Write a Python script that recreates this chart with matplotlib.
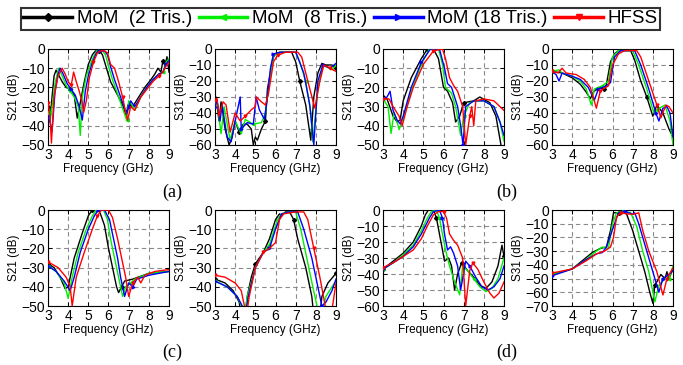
import matplotlib
matplotlib.use("Agg")
import matplotlib.pyplot as plt
from matplotlib.ticker import MultipleLocator

plt.rcParams['font.family'] = ['Liberation Sans', 'DejaVu Sans']

# ---------------- data (frequency GHz, dB) ----------------
SERIES = ["MoM  (2 Tris.)", "MoM  (8 Tris.)", "MoM (18 Tris.)", "HFSS"]
COLORS = ["#000000", "#00ee00", "#0000ff", "#ff0000"]
MARKERS = ["D", "<", ">", "v"]

# (a) S21
A21_M2 = [(3.0,-30),(3.1,-37),(3.2,-25),(3.3,-14),(3.4,-11),(3.5,-13),(3.7,-17),(3.9,-20),(4.1,-21),(4.3,-24),(4.45,-36),(4.6,-28),(4.8,-17),(5.0,-8),(5.2,-3),(5.35,-1),(5.55,-1),(5.7,-3),(5.9,-10),(6.1,-17),(6.3,-21),(6.5,-25),(6.7,-29),(6.85,-34),(7.0,-29),(7.2,-30),(7.5,-25),(7.8,-20),(8.1,-16),(8.3,-13),(8.45,-10),(8.6,-12),(8.7,-6),(8.8,-9),(8.9,-4),(9.0,-12)]
A21_M8 = [(3.0,-33),(3.1,-38),(3.2,-30),(3.35,-18),(3.5,-11),(3.55,-10),(3.7,-14),(3.9,-19),(4.1,-22),(4.3,-25),(4.5,-30),(4.6,-45),(4.7,-25),(4.9,-14),(5.1,-8),(5.3,-3),(5.45,-1),(5.7,-1),(5.85,-3),(6.0,-9),(6.2,-16),(6.4,-22),(6.6,-28),(6.8,-34),(6.9,-37),(7.0,-27),(7.15,-29),(7.3,-32),(7.6,-25),(7.9,-20),(8.2,-16),(8.5,-13),(8.7,-12),(8.85,-7),(9.0,-5)]
A21_M18 = [(3.0,-35),(3.1,-38),(3.2,-43),(3.35,-22),(3.5,-13),(3.6,-10),(3.75,-13),(3.95,-18),(4.15,-21),(4.35,-24),(4.55,-30),(4.7,-37),(4.85,-22),(5.0,-14),(5.2,-7),(5.4,-2),(5.55,-1),(5.8,-1),(5.95,-3),(6.1,-9),(6.3,-16),(6.5,-22),(6.7,-28),(6.9,-34),(7.0,-30),(7.1,-27),(7.3,-30),(7.6,-25),(7.9,-20),(8.2,-16),(8.5,-13),(8.7,-12),(8.85,-8),(9.0,-6)]
A21_HF = [(3.0,-28),(3.1,-35),(3.17,-49),(3.3,-25),(3.5,-14),(3.7,-10),(3.85,-13),(4.0,-17),(4.15,-19),(4.27,-12),(4.4,-17),(4.55,-22),(4.7,-28),(4.77,-33),(4.9,-27),(5.05,-15),(5.25,-7),(5.45,-2),(5.6,-1),(5.8,-1),(5.95,-2),(6.1,-8),(6.3,-10),(6.5,-17),(6.7,-25),(6.85,-33),(6.95,-37),(7.1,-30),(7.3,-32),(7.6,-25),(7.9,-21),(8.2,-17),(8.5,-14),(8.7,-12),(8.85,-9),(9.0,-7)]

# (a) S31
A31_M2 = [(3.0,-35),(3.05,-30),(3.2,-45),(3.3,-33),(3.5,-50),(3.7,-60),(3.85,-55),(4.0,-45),(4.2,-52),(4.4,-47),(4.6,-47),(4.8,-50),(4.9,-60),(5.0,-55),(5.1,-57),(5.3,-50),(5.5,-45),(5.6,-25),(5.7,-18),(5.9,-5),(6.0,-3),(6.2,-2),(6.8,-2),(7.0,-8),(7.2,-20),(7.5,-35),(7.75,-57),(7.9,-30),(8.1,-15),(8.3,-9),(8.5,-10),(8.8,-10),(9.0,-12)]
A31_M8 = [(3.0,-35),(3.1,-32),(3.3,-53),(3.45,-36),(3.75,-57),(4.0,-45),(4.3,-53),(4.5,-44),(4.9,-47),(5.3,-46),(5.5,-40),(5.7,-20),(5.9,-4),(6.3,-2),(7.0,-2),(7.2,-8),(7.5,-20),(7.75,-40),(7.85,-58),(8.1,-25),(8.35,-10),(8.8,-13),(9.0,-10)]
A31_M18 = [(3.0,-36),(3.1,-32),(3.25,-45),(3.35,-35),(3.6,-55),(3.8,-58),(4.0,-45),(4.25,-30),(4.3,-50),(4.6,-46),(4.9,-47),(5.04,-30),(5.2,-38),(5.45,-44),(5.6,-30),(5.75,-12),(5.9,-3),(6.3,-2),(7.0,-2),(7.1,-5),(7.4,-15),(7.7,-35),(7.9,-60),(8.1,-20),(8.35,-10),(8.7,-12),(9.0,-9)]
A31_HF = [(3.0,-32),(3.1,-31),(3.2,-42),(3.4,-33),(3.55,-35),(3.75,-52),(4.0,-40),(4.25,-45),(4.5,-42),(4.8,-38),(5.0,-36),(5.05,-30),(5.3,-33),(5.5,-35),(5.65,-28),(5.9,-8),(6.1,-4),(6.5,-2),(7.1,-2),(7.3,-5),(7.6,-20),(7.95,-37),(8.2,-20),(8.4,-10),(8.7,-12),(9.0,-14)]

# (b) S21
B21_M2 = [(3.0,-25),(3.2,-26),(3.5,-35),(3.7,-38),(3.85,-37),(4.0,-27),(4.4,-15),(4.9,-5),(5.2,0),(5.5,0),(5.75,-5),(6.0,-20),(6.2,-22),(6.45,-28),(6.6,-38),(6.8,-35),(7.0,-28),(7.5,-27),(7.8,-25),(8.3,-28),(8.6,-35),(8.85,-50),(9.0,-55)]
B21_M8 = [(3.0,-26),(3.25,-30),(3.4,-44),(3.55,-33),(3.7,-38),(3.8,-42),(4.0,-36),(4.4,-22),(4.9,-8),(5.3,0),(5.75,0),(5.95,-8),(6.1,-20),(6.4,-23),(6.6,-30),(6.85,-45),(7.0,-35),(7.3,-28),(7.6,-27),(8.0,-27),(8.5,-30),(8.8,-38),(9.0,-48)]
B21_M18 = [(3.0,-26),(3.2,-25),(3.35,-22),(3.5,-32),(3.7,-37),(3.85,-39),(4.0,-35),(4.4,-20),(4.9,-7),(5.35,0),(5.8,0),(6.05,-10),(6.2,-18),(6.4,-20),(6.7,-30),(6.85,-40),(6.97,-50),(7.1,-30),(7.5,-27),(8.0,-27),(8.5,-30),(8.8,-38),(9.0,-45)]
B21_HF = [(3.0,-26),(3.3,-26),(3.5,-30),(3.8,-35),(3.95,-40),(4.2,-30),(4.5,-20),(5.0,-8),(5.5,-1),(5.95,0),(6.1,-5),(6.3,-15),(6.5,-19),(6.7,-22),(6.95,-30),(7.1,-50),(7.3,-35),(7.4,-30),(7.5,-40),(7.6,-27),(8.0,-26),(8.5,-27),(9.0,-32)]

# (b) S31
B31_M2 = [(3.0,-14),(3.5,-15),(4.0,-18),(4.4,-22),(4.7,-27),(4.9,-31),(5.05,-27),(5.3,-24),(5.6,-25),(5.7,-22),(5.9,-8),(6.1,-3),(6.3,-1),(6.9,-1),(7.1,-7),(7.4,-20),(7.7,-30),(8.0,-42),(8.2,-35),(8.5,-40),(8.8,-50),(9.0,-55)]
B31_M8 = [(3.0,-14),(3.35,-13),(3.5,-15),(4.0,-17),(4.4,-20),(4.7,-25),(4.95,-35),(5.1,-25),(5.5,-23),(5.8,-20),(6.0,-5),(6.3,-1),(7.0,-1),(7.3,-10),(7.7,-25),(8.05,-40),(8.2,-38),(8.6,-35),(8.85,-45),(9.0,-60)]
B31_M18 = [(3.0,-14),(3.2,-16),(3.35,-20),(3.5,-15),(4.0,-17),(4.4,-19),(4.8,-24),(5.1,-32),(5.3,-25),(5.7,-23),(5.9,-21),(6.1,-5),(6.4,-1),(7.1,-1),(7.4,-10),(7.8,-25),(8.15,-40),(8.3,-45),(8.5,-37),(8.7,-36),(8.85,-40),(9.0,-55)]
B31_HF = [(3.0,-14),(3.3,-15),(3.5,-12),(3.7,-15),(4.2,-16),(4.6,-19),(4.9,-24),(5.2,-37),(5.4,-26),(5.8,-23),(6.0,-10),(6.3,-3),(6.6,-1),(7.2,-1),(7.4,-5),(7.8,-20),(8.2,-35),(8.4,-43),(8.65,-35),(8.8,-36),(9.0,-40)]

# (c) S21
C21_M2 = [(3.0,-28),(3.3,-30),(3.6,-35),(3.85,-41),(4.0,-40),(4.3,-25),(4.7,-12),(5.0,-3),(5.2,0),(5.5,0),(5.6,-2),(5.8,-8),(6.0,-20),(6.2,-30),(6.4,-40),(6.5,-43),(6.65,-40),(6.8,-37),(7.2,-36),(8.0,-33),(9.0,-32)]
C21_M8 = [(3.0,-29),(3.4,-32),(3.8,-38),(4.0,-46),(4.2,-35),(4.5,-22),(4.9,-10),(5.2,-3),(5.4,0),(5.75,0),(5.95,-5),(6.1,-15),(6.3,-25),(6.5,-35),(6.7,-45),(6.85,-40),(7.1,-38),(7.3,-36),(8.0,-33),(9.0,-32)]
C21_M18 = [(3.0,-29),(3.4,-32),(3.8,-37),(4.1,-42),(4.3,-35),(4.6,-22),(5.0,-10),(5.3,-3),(5.5,0),(5.8,0),(6.05,-5),(6.25,-15),(6.45,-25),(6.6,-35),(6.8,-45),(7.0,-38),(7.2,-40),(7.4,-36),(8.0,-34),(9.0,-32)]
C21_HF = [(3.0,-27),(3.5,-30),(3.9,-35),(4.1,-40),(4.2,-50),(4.4,-35),(4.8,-22),(5.2,-10),(5.45,-3),(5.65,0),(6.0,0),(6.2,-4),(6.45,-15),(6.65,-25),(6.85,-35),(7.0,-45),(7.2,-38),(7.45,-35),(7.6,-38),(7.8,-34),(8.3,-32),(9.0,-31)]

# (c) S31
C31_M2 = [(3.0,-36),(3.5,-38),(3.9,-42),(4.2,-48),(4.3,-55),(4.5,-55),(4.6,-45),(4.8,-35),(5.0,-28),(5.4,-22),(5.7,-15),(6.0,-5),(6.2,-2),(6.3,-3),(6.5,-1),(6.7,-1),(6.9,-5),(7.1,-15),(7.5,-30),(7.8,-45),(7.9,-55),(8.2,-55),(8.3,-45),(8.6,-38),(9.0,-33)]
C31_M8 = [(3.0,-37),(3.6,-40),(4.1,-45),(4.4,-52),(4.5,-52),(4.6,-45),(5.0,-30),(5.4,-22),(5.7,-18),(6.1,-5),(6.3,-2),(6.7,-1),(7.0,-1),(7.25,-10),(7.55,-25),(7.85,-40),(8.1,-52),(8.35,-52),(8.5,-45),(8.8,-40),(9.0,-37)]
C31_M18 = [(3.0,-37),(3.6,-40),(4.1,-45),(4.45,-52),(4.55,-52),(4.65,-45),(5.0,-30),(5.4,-22),(5.7,-20),(6.0,-10),(6.3,-2),(6.7,-1),(7.1,-1),(7.4,-10),(7.8,-25),(8.1,-40),(8.3,-50),(8.5,-48),(8.8,-42),(9.0,-36)]
C31_HF = [(3.0,-34),(3.5,-35),(4.0,-38),(4.3,-42),(4.5,-52),(4.6,-52),(4.7,-45),(5.0,-30),(5.4,-22),(5.7,-20),(6.0,-17),(6.2,-5),(6.4,-2),(7.0,-1),(7.4,-1),(7.6,-5),(7.9,-20),(8.2,-35),(8.5,-52),(8.8,-52),(8.9,-45),(9.0,-38)]

# (d) S21
D21_M2 = [(3.0,-37),(3.5,-32),(4.0,-27),(4.5,-20),(4.9,-10),(5.1,-3),(5.25,0),(5.5,0),(5.65,-5),(5.8,-15),(5.95,-25),(6.05,-32),(6.25,-30),(6.4,-35),(6.55,-50),(6.7,-40),(6.9,-33),(7.2,-38),(7.5,-42),(7.8,-47),(8.1,-49),(8.4,-45),(8.7,-35),(8.9,-22),(9.0,-29)]
D21_M8 = [(3.0,-37),(3.5,-33),(4.0,-28),(4.5,-22),(4.9,-13),(5.2,-5),(5.4,-1),(5.65,0),(5.8,-5),(5.95,-15),(6.1,-25),(6.3,-35),(6.55,-45),(6.8,-53),(6.95,-35),(7.2,-38),(7.5,-43),(7.8,-48),(8.1,-51),(8.4,-49),(8.7,-43),(9.0,-30)]
D21_M18 = [(3.0,-37),(3.5,-33),(4.0,-29),(4.5,-23),(4.9,-15),(5.3,-5),(5.5,-1),(5.8,0),(5.95,-5),(6.05,-15),(6.2,-25),(6.35,-23),(6.5,-27),(6.7,-35),(6.85,-50),(7.1,-32),(7.3,-35),(7.6,-42),(7.9,-48),(8.2,-50),(8.5,-48),(8.8,-43),(9.0,-35)]
D21_HF = [(3.0,-36),(3.5,-33),(4.0,-29),(4.5,-25),(4.9,-18),(5.2,-10),(5.5,-3),(5.75,-1),(6.0,-1),(6.15,-5),(6.3,-15),(6.5,-19),(6.7,-22),(6.95,-30),(7.1,-60),(7.3,-38),(7.45,-33),(7.7,-37),(8.0,-45),(8.3,-52),(8.5,-55),(8.75,-52),(9.0,-45)]

# (d) S31
D31_M2 = [(3.0,-47),(4.0,-43),(4.5,-37),(5.0,-31),(5.4,-28),(5.7,-27),(5.9,-15),(6.05,-2),(6.3,-2),(6.5,-1),(6.7,-3),(7.0,-15),(7.3,-30),(7.6,-45),(7.85,-60),(8.0,-68),(8.1,-55),(8.4,-47),(8.6,-50),(8.7,-45),(8.8,-50),(9.0,-43)]
D31_M8 = [(3.0,-47),(4.0,-43),(4.6,-37),(5.2,-30),(5.5,-27),(5.8,-28),(6.0,-10),(6.2,-2),(6.5,-1),(6.9,-2),(7.2,-12),(7.5,-30),(7.8,-45),(8.1,-67),(8.3,-55),(8.6,-50),(8.8,-50),(9.0,-41)]
D31_M18 = [(3.0,-48),(4.0,-43),(4.6,-37),(5.2,-32),(5.5,-31),(5.7,-27),(6.1,-10),(6.3,-2),(6.6,-1),(7.0,-3),(7.1,-2),(7.3,-10),(7.6,-25),(7.9,-40),(8.2,-55),(8.3,-60),(8.5,-50),(8.8,-47),(9.0,-44)]
D31_HF = [(3.0,-46),(4.0,-43),(4.7,-37),(5.2,-32),(5.6,-30),(5.9,-27),(6.05,-20),(6.2,-5),(6.4,-2),(6.8,-3),(7.1,-3),(7.3,-2),(7.5,-15),(7.8,-30),(8.2,-45),(8.5,-62),(8.7,-50),(9.0,-42)]

PANELS = [
    ("S21 (dB)", -50, [A21_M2, A21_M8, A21_M18, A21_HF]),
    ("S31 (dB)", -60, [A31_M2, A31_M8, A31_M18, A31_HF]),
    ("S21 (dB)", -50, [B21_M2, B21_M8, B21_M18, B21_HF]),
    ("S31 (dB)", -60, [B31_M2, B31_M8, B31_M18, B31_HF]),
    ("S21 (dB)", -50, [C21_M2, C21_M8, C21_M18, C21_HF]),
    ("S31 (dB)", -50, [C31_M2, C31_M8, C31_M18, C31_HF]),
    ("S21 (dB)", -60, [D21_M2, D21_M8, D21_M18, D21_HF]),
    ("S31 (dB)", -70, [D31_M2, D31_M8, D31_M18, D31_HF]),
]
PANEL_TAGS = ["(a)", "(b)", "(c)", "(d)"]

# ---------------- layout ----------------
W, H = 683, 365
fig = plt.figure(figsize=(W / 100, H / 100), dpi=100)

lefts = [48, 215, 383, 552]
tops = [49, 210]
aw, ah = 121, 96

def rect(x, y, w, h):
    return [x / W, 1 - (y + h) / H, w / W, h / H]

axes = []
for i, (ylab, ymin, series) in enumerate(PANELS):
    r, c = divmod(i, 4)
    ax = fig.add_axes(rect(lefts[c], tops[r], aw, ah))
    axes.append(ax)
    for k, pts in enumerate(series):
        xs = [p[0] for p in pts]
        ys = [p[1] for p in pts]
        ax.plot(xs, ys, color=COLORS[k], lw=1.0, marker=MARKERS[k],
                markersize=2.0, markevery=8, label=SERIES[k], zorder=3)
    ax.set_xlim(3, 9)
    ax.set_ylim(ymin, 0)
    ax.xaxis.set_major_locator(MultipleLocator(1))
    ax.yaxis.set_major_locator(MultipleLocator(10))
    ax.grid(True, color="#8a8a8a", lw=0.8, ls=(0, (4, 3)))
    ax.tick_params(direction="in", top=True, right=True, length=3, width=0.7,
                   labelsize=10, pad=2)
    for s in ax.spines.values():
        s.set_linewidth(0.8)
    ax.set_xlabel("Frequency (GHz)", fontsize=8.5, labelpad=1)
    ax.set_ylabel(ylab, fontsize=8.5, labelpad=1)

for j, tag in enumerate(PANEL_TAGS):
    r, c = divmod(j, 2)
    x = 172 if c == 0 else 507
    y = 192 if r == 0 else 352
    fig.text(x / W, 1 - y / H, tag, ha="center", va="center",
             fontsize=13, family=["Liberation Serif", "DejaVu Serif"])

handles, labels = axes[0].get_legend_handles_labels()
leg = fig.legend(handles, labels, loc="upper left",
                 bbox_to_anchor=(21 / W, 1 - 8 / H),
                 ncol=4, fontsize=13.5, frameon=True,
                 fancybox=False, edgecolor="black", handlelength=2.6,
                 handletextpad=0.25, columnspacing=0.35, borderpad=0.12,
                 borderaxespad=0, markerscale=2.2)
leg.get_frame().set_linewidth(1.5)
for lh in leg.get_lines():
    lh.set_linewidth(2.5)

fig.savefig("out.png", dpi=100)
